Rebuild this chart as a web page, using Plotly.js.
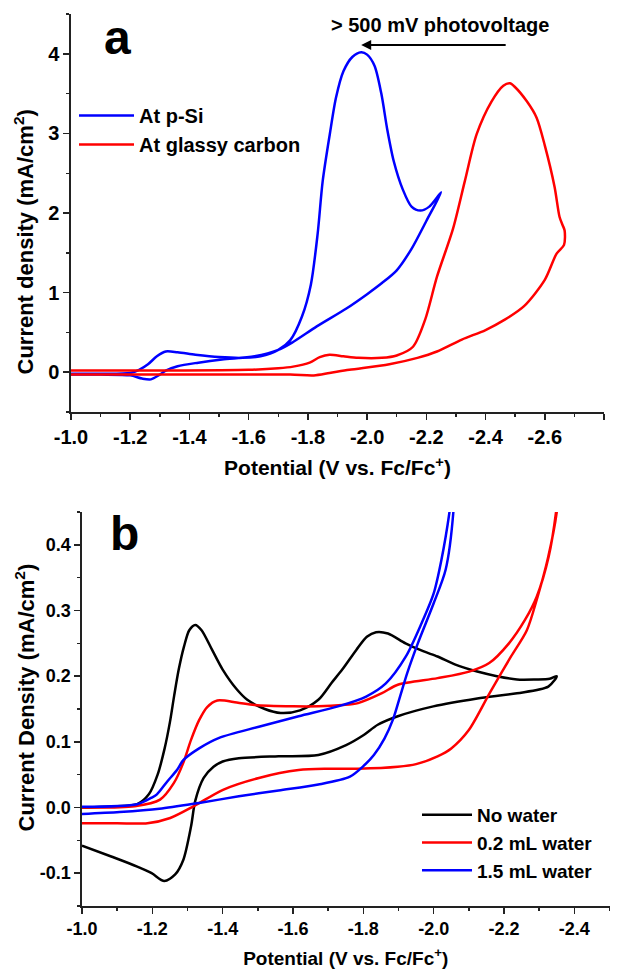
<!DOCTYPE html>
<html>
<head>
<meta charset="utf-8">
<script src="https://cdn.plot.ly/plotly-3.0.1.min.js"></script>
<style>html,body{margin:0;padding:0;background:#fff;}#chart{width:621px;height:969px;}</style>
</head>
<body>
<div id="chart"></div>
<script>
// ---------- Panel a data ----------
const pSiPotential = [-1.0,-1.1,-1.2,-1.23,-1.26,-1.29,-1.32,-1.36,-1.42,-1.5,-1.58,-1.64,-1.7,-1.74,-1.78,-1.81,-1.833,-1.85,-1.874,-1.895,-1.92,-1.95,-1.98,-2.0,-2.025,-2.048,-2.068,-2.09,-2.12,-2.15,-2.18,-2.21,-2.25,
  -2.2,-2.15,-2.1,-2.05,-2.0,-1.93,-1.83,-1.75,-1.7,-1.62,-1.51,-1.43,-1.36,-1.32,-1.3,-1.27,-1.24,-1.2,-1.1,-1.0];
const pSiCurrent = [-0.02,-0.02,-0.01,0.03,0.1,0.2,0.26,0.25,0.22,0.19,0.18,0.2,0.28,0.4,0.7,1.1,1.74,2.4,2.99,3.45,3.78,3.96,4.02,3.99,3.85,3.5,3.05,2.65,2.3,2.08,2.03,2.08,2.26,
  1.9,1.55,1.28,1.12,0.98,0.8,0.575,0.38,0.28,0.2,0.16,0.12,0.075,0.02,-0.03,-0.09,-0.08,-0.04,-0.03,-0.03];

const gcPotential = [-1.0,-1.3,-1.6,-1.7,-1.75,-1.806,-1.84,-1.873,-1.92,-1.97,-2.05,-2.1,-2.155,-2.196,-2.236,-2.29,-2.33,-2.37,-2.42,-2.46,-2.482,-2.5,-2.54,-2.572,-2.6,-2.633,-2.65,-2.66,-2.667,
  -2.665,-2.64,-2.6,-2.53,-2.465,-2.4,-2.32,-2.236,-2.17,-2.075,-1.94,-1.873,-1.82,-1.74,-1.4,-1.0];
const gcCurrent = [0.02,0.02,0.03,0.05,0.07,0.12,0.19,0.22,0.2,0.18,0.18,0.21,0.32,0.66,1.2,1.8,2.4,2.99,3.4,3.6,3.63,3.58,3.4,3.2,2.85,2.33,1.95,1.85,1.78,
  1.6,1.49,1.16,0.83,0.66,0.53,0.41,0.26,0.18,0.1,0.03,-0.01,-0.04,-0.03,-0.03,-0.03];

// ---------- Panel b data ----------
const noWaterPotential = [-1.0,-1.1,-1.157,-1.19,-1.215,-1.235,-1.25,-1.262,-1.275,-1.29,-1.305,-1.322,-1.34,-1.37,-1.4,-1.44,-1.47,-1.52,-1.565,-1.62,-1.672,-1.71,-1.74,-1.78,-1.81,-1.836,-1.87,-1.92,-1.97,-2.011,-2.06,-2.124,-2.18,-2.237,-2.29,-2.33,-2.35,
  -2.326,-2.237,-2.124,-1.999,-1.898,-1.841,-1.8,-1.751,-1.672,-1.559,-1.446,-1.4,-1.374,-1.346,-1.322,-1.31,-1.288,-1.265,-1.234,-1.198,-1.157,-1.085,-1.0];
const noWaterCurrent = [0.0,0.002,0.005,0.02,0.05,0.09,0.13,0.17,0.21,0.245,0.27,0.278,0.27,0.24,0.21,0.18,0.164,0.15,0.144,0.148,0.164,0.19,0.21,0.24,0.26,0.267,0.265,0.25,0.238,0.23,0.218,0.207,0.2,0.195,0.195,0.196,0.2,
  0.184,0.174,0.166,0.154,0.139,0.126,0.11,0.095,0.08,0.078,0.075,0.07,0.062,0.045,0.01,-0.029,-0.08,-0.102,-0.112,-0.1,-0.09,-0.075,-0.058];

const water02Potential = [-1.0,-1.15,-1.222,-1.261,-1.288,-1.31,-1.333,-1.356,-1.385,-1.44,-1.491,-1.6,-1.672,-1.74,-1.785,-1.853,-1.898,-2.011,-2.101,-2.158,-2.214,-2.26,-2.293,-2.327,-2.348,-2.36,
  -2.35,-2.325,-2.295,-2.265,-2.22,-2.16,-2.1,-2.05,-2.011,-1.95,-1.898,-1.785,-1.7,-1.616,-1.503,-1.401,-1.318,-1.251,-1.186,-1.1,-1.0];
const water02Current = [0.0,0.002,0.012,0.037,0.068,0.103,0.133,0.153,0.163,0.16,0.156,0.154,0.154,0.156,0.159,0.174,0.187,0.197,0.207,0.22,0.25,0.286,0.321,0.382,0.45,0.52,
  0.45,0.38,0.32,0.27,0.23,0.175,0.118,0.09,0.078,0.066,0.062,0.059,0.059,0.057,0.045,0.027,0.002,-0.016,-0.024,-0.024,-0.024];

const water15Potential = [-1.0,-1.157,-1.198,-1.213,-1.243,-1.27,-1.288,-1.333,-1.39,-1.503,-1.616,-1.728,-1.808,-1.864,-1.921,-1.966,-2.0,-2.022,-2.045,-2.06,
  -2.056,-2.034,-2.0,-1.955,-1.925,-1.905,-1.885,-1.86,-1.83,-1.8,-1.762,-1.672,-1.559,-1.446,-1.333,-1.22,-1.107,-1.0];
const water15Current = [0.001,0.005,0.015,0.02,0.04,0.057,0.072,0.09,0.106,0.123,0.139,0.154,0.169,0.189,0.23,0.281,0.326,0.377,0.45,0.52,
  0.45,0.362,0.311,0.25,0.205,0.17,0.135,0.105,0.08,0.063,0.047,0.035,0.026,0.017,0.007,-0.002,-0.007,-0.01];

// ---------- Tick labels ----------
const xTickValsA = [-1.0,-1.2,-1.4,-1.6,-1.8,-2.0,-2.2,-2.4,-2.6,-2.8];
const xTickTextA = ["-1.0","-1.2","-1.4","-1.6","-1.8","-2.0","-2.2","-2.4","-2.6","-2.8"];
const yTickValsA = [0,1,2,3,4];
const yTickTextA = ["0","1","2","3","4"];
const xTickValsB = [-1.0,-1.2,-1.4,-1.6,-1.8,-2.0,-2.2,-2.4];
const xTickTextB = ["-1.0","-1.2","-1.4","-1.6","-1.8","-2.0","-2.2","-2.4"];
const yTickValsB = [-0.1,0.0,0.1,0.2,0.3,0.4];
const yTickTextB = ["-0.1","0.0","0.1","0.2","0.3","0.4"];

const FONT = "Liberation Sans, Arial, sans-serif";
const W = 621, H = 969;
const px = v => v / W;
const py = v => 1 - v / H;

const lineW = 2.5;
const lineStyle = c => ({color: c, width: lineW, shape: "spline", smoothing: 0.8});
const traces = [
  {x: pSiPotential, y: pSiCurrent, name: "At p-Si", type: "scatter", mode: "lines", line: lineStyle("#0000ff"), xaxis: "x", yaxis: "y", legend: "legend"},
  {x: gcPotential, y: gcCurrent, name: "At glassy carbon", type: "scatter", mode: "lines", line: lineStyle("#ff0000"), xaxis: "x", yaxis: "y", legend: "legend"},
  {x: noWaterPotential, y: noWaterCurrent, name: "No water", type: "scatter", mode: "lines", line: lineStyle("#000000"), xaxis: "x2", yaxis: "y2", legend: "legend2"},
  {x: water02Potential, y: water02Current, name: "0.2 mL water", type: "scatter", mode: "lines", line: lineStyle("#ff0000"), xaxis: "x2", yaxis: "y2", legend: "legend2"},
  {x: water15Potential, y: water15Current, name: "1.5 mL water", type: "scatter", mode: "lines", line: lineStyle("#0000ff"), xaxis: "x2", yaxis: "y2", legend: "legend2"}
];

const axisCommon = {
  showline: true, linecolor: "#222", linewidth: 1.6, mirror: false,
  showgrid: false, zeroline: false, ticks: "outside", ticklen: 6, tickwidth: 1.6, tickcolor: "#222",
  tickmode: "array", fixedrange: true
};

const layout = {
  width: W, height: H,
  margin: {l: 0, r: 0, t: 0, b: 0},
  paper_bgcolor: "#fff", plot_bgcolor: "#fff",
  font: {family: FONT, color: "#000", weight: "bold"},
  xaxis: Object.assign({}, axisCommon, {
    domain: [px(71), px(604)], range: [-1.0, -2.8], anchor: "y",
    tickvals: xTickValsA, ticktext: xTickTextA,
    tickfont: {family: FONT, size: 20, weight: "bold", color: "#000"},
    minor: {tickmode: "linear", tick0: -1.0, dtick: 0.1, ticks: "outside", ticklen: 3.5, tickwidth: 1.4, tickcolor: "#222", showgrid: false},
    title: {text: "Potential (V vs. Fc/Fc<sup>+</sup>)", font: {family: FONT, size: 21, weight: "bold", color: "#000"}, standoff: 14}
  }),
  yaxis: Object.assign({}, axisCommon, {
    domain: [py(412), py(14)], range: [-0.5, 4.5], anchor: "x",
    tickvals: yTickValsA, ticktext: yTickTextA,
    tickfont: {family: FONT, size: 20, weight: "bold", color: "#000"},
    minor: {tickmode: "linear", tick0: -0.5, dtick: 0.5, ticks: "outside", ticklen: 3.5, tickwidth: 1.4, tickcolor: "#222", showgrid: false}
  }),
  xaxis2: Object.assign({}, axisCommon, {
    domain: [px(82), px(609.5)], range: [-1.0, -2.5], anchor: "y2",
    tickvals: xTickValsB, ticktext: xTickTextB,
    tickfont: {family: FONT, size: 18, weight: "bold", color: "#000"},
    minor: {tickmode: "linear", tick0: -1.0, dtick: 0.1, ticks: "outside", ticklen: 3.5, tickwidth: 1.4, tickcolor: "#222", showgrid: false},
    title: {text: "Potential (V vs. Fc/Fc<sup>+</sup>)", font: {family: FONT, size: 19, weight: "bold", color: "#000"}, standoff: 16}
  }),
  yaxis2: Object.assign({}, axisCommon, {
    domain: [py(906), py(512)], range: [-0.15, 0.45], anchor: "x2",
    tickvals: yTickValsB, ticktext: yTickTextB,
    tickfont: {family: FONT, size: 18, weight: "bold", color: "#000"},
    minor: {tickmode: "linear", tick0: -0.15, dtick: 0.05, ticks: "outside", ticklen: 3.5, tickwidth: 1.4, tickcolor: "#222", showgrid: false}
  }),
  legend: {
    x: px(74), y: py(96), xanchor: "left", yanchor: "top", bgcolor: "rgba(0,0,0,0)",
    font: {family: FONT, size: 20, weight: "bold", color: "#000"}, itemwidth: 55, tracegroupgap: 0
  },
  legend2: {
    x: px(417), y: py(796), xanchor: "left", yanchor: "top", bgcolor: "rgba(0,0,0,0)",
    font: {family: FONT, size: 19, weight: "bold", color: "#000"}, itemwidth: 50, tracegroupgap: 0
  },
  showlegend: true,
  annotations: [
    {xref: "paper", yref: "paper", x: px(117), y: py(38), text: "a", showarrow: false, xanchor: "center", yanchor: "middle",
     font: {family: FONT, size: 48, weight: "bold", color: "#000"}},
    {xref: "paper", yref: "paper", x: px(124), y: py(533), text: "b", showarrow: false, xanchor: "center", yanchor: "middle",
     font: {family: FONT, size: 48, weight: "bold", color: "#000"}},
    {xref: "paper", yref: "paper", x: px(439.5), y: py(25), text: "> 500 mV photovoltage", showarrow: false, xanchor: "center", yanchor: "middle",
     font: {family: FONT, size: 20, weight: "bold", color: "#000"}},
    {xref: "x", yref: "y", x: -1.98, y: 4.11, axref: "x", ayref: "y", ax: -2.473, ay: 4.11, text: "", showarrow: true,
     arrowhead: 2, arrowsize: 1, arrowwidth: 2, arrowcolor: "#000", standoff: 0, startstandoff: 0},
    {xref: "paper", yref: "paper", x: px(24), y: py(242.5), text: "Current density (mA/cm<sup>2</sup>)", showarrow: false, textangle: -90,
     xanchor: "center", yanchor: "middle", font: {family: FONT, size: 22, weight: "bold", color: "#000"}},
    {xref: "paper", yref: "paper", x: px(24), y: py(697.5), text: "Current Density (mA/cm<sup>2</sup>)", showarrow: false, textangle: -90,
     xanchor: "center", yanchor: "middle", font: {family: FONT, size: 22, weight: "bold", color: "#000"}}
  ]
};

Plotly.newPlot("chart", traces, layout, {displayModeBar: false, staticPlot: true});
</script>
</body>
</html>
